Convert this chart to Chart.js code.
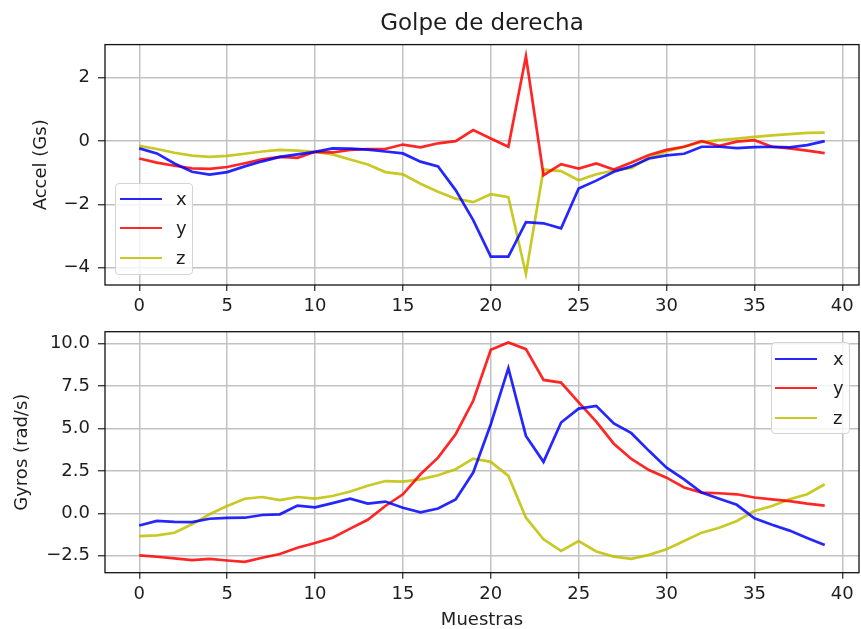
<!DOCTYPE html>
<html>
<head>
<meta charset="utf-8">
<title>Golpe de derecha</title>
<script src="https://cdn.jsdelivr.net/npm/chart.js@4.4.1/dist/chart.umd.min.js"></script>
<style>
  html, body { margin: 0; padding: 0; background: #fff; }
  #wrap { position: relative; width: 861px; height: 629px; overflow: hidden; font-family: 'DejaVu Sans', sans-serif; }
  canvas { position: absolute; left: 0; }
  #accelCanvas { top: 0; }
  #gyroCanvas { top: 312px; }
  .legend {
    position: absolute; box-sizing: border-box;
    background: rgba(255, 255, 255, 0.8);
    border: 1px solid #d4d4d4; border-radius: 4px;
  }
  .legend .row { height: 29.6px; display: flex; align-items: center; }
  .legend .swatch { width: 42px; height: 0; border-top: 2.7px solid; }
  .legend .lbl { font-size: 18px; color: #1e1e1e; line-height: 1; }
  #accelLegend { left: 115px; top: 183px; width: 78px; height: 92px; }
  #gyroLegend { left: 771px; top: 342px; width: 79px; height: 92px; }
</style>
</head>
<body>
<div id="wrap">
  <canvas id="accelCanvas" width="861" height="312"></canvas>
  <canvas id="gyroCanvas" width="861" height="317"></canvas>
  <div id="accelLegend" class="legend"></div>
  <div id="gyroLegend" class="legend"></div>
</div>
<script>
// sample index (Muestras)
const muestras = [0, 1, 2, 3, 4, 5, 6, 7, 8, 9, 10, 11, 12, 13, 14, 15, 16, 17, 18, 19,
  20, 21, 22, 23, 24, 25, 26, 27, 28, 29, 30, 31, 32, 33, 34, 35, 36, 37, 38, 39];

// accelerometer (Gs)
const accelX = [-0.23, -0.39, -0.71, -0.97, -1.06, -0.98, -0.80, -0.64, -0.50, -0.42,
  -0.34, -0.23, -0.24, -0.27, -0.33, -0.39, -0.65, -0.80, -1.55, -2.50,
  -3.65, -3.65, -2.56, -2.60, -2.76, -1.50, -1.25, -0.97, -0.80, -0.55,
  -0.45, -0.40, -0.18, -0.18, -0.22, -0.19, -0.18, -0.20, -0.13, 0.00];
const accelY = [-0.55, -0.68, -0.78, -0.86, -0.88, -0.82, -0.70, -0.58, -0.50, -0.53,
  -0.34, -0.36, -0.28, -0.25, -0.25, -0.11, -0.20, -0.07, 0.00, 0.35,
  0.08, -0.18, 2.68, -1.08, -0.73, -0.87, -0.71, -0.90, -0.68, -0.44,
  -0.28, -0.18, 0.00, -0.15, -0.02, 0.03, -0.18, -0.23, -0.30, -0.38];
const accelZ = [-0.15, -0.25, -0.37, -0.46, -0.50, -0.47, -0.40, -0.33, -0.28, -0.30,
  -0.34, -0.42, -0.58, -0.74, -0.98, -1.05, -1.35, -1.60, -1.82, -1.93,
  -1.68, -1.77, -4.20, -0.90, -0.95, -1.24, -1.05, -0.93, -0.85, -0.52,
  -0.33, -0.18, -0.03, 0.03, 0.08, 0.13, 0.18, 0.22, 0.26, 0.27];

// gyroscope (rad/s)
const gyroX = [-0.72, -0.45, -0.50, -0.52, -0.32, -0.27, -0.26, -0.10, -0.06, 0.45,
  0.35, 0.60, 0.86, 0.57, 0.69, 0.33, 0.06, 0.28, 0.81, 2.40,
  5.25, 8.55, 4.56, 3.03, 5.35, 6.17, 6.33, 5.29, 4.72, 3.68,
  2.69, 2.00, 1.22, 0.86, 0.50, -0.30, -0.68, -1.02, -1.45, -1.87];
const gyroY = [-2.48, -2.56, -2.66, -2.76, -2.68, -2.78, -2.86, -2.62, -2.40, -2.03,
  -1.75, -1.44, -0.90, -0.38, 0.43, 1.12, 2.30, 3.28, 4.66, 6.63,
  9.63, 10.06, 9.67, 7.86, 7.70, 6.53, 5.40, 4.10, 3.20, 2.55,
  2.10, 1.52, 1.22, 1.18, 1.12, 0.93, 0.82, 0.72, 0.57, 0.45];
const gyroZ = [-1.34, -1.30, -1.15, -0.65, -0.06, 0.43, 0.86, 0.96, 0.78, 0.96,
  0.86, 1.02, 1.28, 1.62, 1.90, 1.87, 2.00, 2.24, 2.60, 3.22,
  3.03, 2.20, -0.26, -1.53, -2.22, -1.64, -2.25, -2.55, -2.68, -2.45,
  -2.12, -1.63, -1.14, -0.85, -0.45, 0.14, 0.43, 0.83, 1.12, 1.71];

// tick labels
const xTicks = [0, 5, 10, 15, 20, 25, 30, 35, 40];
const accelTicks = [-4, -2, 0, 2];
const gyroTicks = [-2.5, 0, 2.5, 5, 7.5, 10];

const FONT = 'DejaVu Sans';
const TEXT = '#1e1e1e';
const GRID = '#c2c2c2';
const COLORS = {
  x: 'rgba(0, 0, 255, 0.85)',
  y: 'rgba(255, 0, 0, 0.85)',
  z: 'rgba(191, 191, 0, 0.85)',
};

const minus = (s) => String(s).replace('-', '\u2212');

// black box around the plot area (matplotlib spines)
const framePlugin = {
  id: 'frame',
  afterDatasetsDraw(chart) {
    const { ctx, chartArea: a } = chart;
    ctx.save();
    ctx.strokeStyle = '#111';
    ctx.lineWidth = 1.3;
    ctx.strokeRect(a.left, a.top, a.right - a.left, a.bottom - a.top);
    ctx.restore();
  },
};

function makeDatasets(xs, ys, zs) {
  return [
    { label: 'x', data: xs, borderColor: COLORS.x },
    { label: 'y', data: ys, borderColor: COLORS.y },
    { label: 'z', data: zs, borderColor: COLORS.z },
  ].map((d) => Object.assign(d, { borderWidth: 2.7, pointRadius: 0, tension: 0, fill: false }));
}

function xScale(height, title) {
  return {
    type: 'linear',
    min: -1.95,
    max: 40.95,
    afterBuildTicks: (s) => { s.ticks = xTicks.map((v) => ({ value: v })); },
    afterFit: (s) => { s.height = height; },
    ticks: { color: TEXT, font: { family: FONT, size: 18 }, padding: 5, maxRotation: 0, includeBounds: false },
    grid: { color: GRID, lineWidth: 1.5, tickLength: 6, tickColor: '#222', tickWidth: 1.2 },
    border: { display: false },
    title: title
      ? { display: true, text: title, color: TEXT, font: { family: FONT, size: 18, lineHeight: 1 }, padding: { top: 0, bottom: 0 } }
      : { display: false },
  };
}

function yScale(min, max, ticks, fmt, title, titlePad) {
  return {
    type: 'linear',
    min,
    max,
    afterBuildTicks: (s) => { s.ticks = ticks.map((v) => ({ value: v })); },
    afterFit: (s) => { s.width = 105; },
    ticks: { color: TEXT, font: { family: FONT, size: 18 }, padding: 8, callback: fmt },
    grid: { color: GRID, lineWidth: 1.5, tickLength: 7, tickColor: '#222', tickWidth: 1.2 },
    border: { display: false },
    title: { display: true, text: title, color: TEXT, font: { family: FONT, size: 18 }, padding: { top: titlePad, bottom: 0 } },
  };
}

// Top panel: accelerometer
const accelChart = new Chart(document.getElementById('accelCanvas'), {
  type: 'line',
  data: { labels: muestras, datasets: makeDatasets(accelX, accelY, accelZ) },
  options: {
    responsive: false,
    animation: false,
    layout: { padding: { left: 0, right: 2, top: 0, bottom: 0 } },
    plugins: {
      legend: { display: false },
      tooltip: { enabled: false },
      title: {
        display: true,
        text: 'Golpe de derecha',
        fullSize: false,
        color: TEXT,
        font: { family: FONT, size: 23, weight: 'normal' },
        padding: { top: 10, bottom: 7 },
      },
    },
    scales: {
      x: xScale(27, null),
      y: yScale(-4.55, 3.05, accelTicks, (v) => minus(v), 'Accel (Gs)', 30.5),
    },
  },
  plugins: [framePlugin],
});

// Bottom panel: gyroscope
const gyroChart = new Chart(document.getElementById('gyroCanvas'), {
  type: 'line',
  data: { labels: muestras, datasets: makeDatasets(gyroX, gyroY, gyroZ) },
  options: {
    responsive: false,
    animation: false,
    layout: { padding: { left: 0, right: 2, top: 19.7, bottom: 0 } },
    plugins: {
      legend: { display: false },
      tooltip: { enabled: false },
    },
    scales: {
      x: xScale(56.3, 'Muestras'),
      y: yScale(-3.5, 10.7, gyroTicks, (v) => minus(Number(v).toFixed(1)), 'Gyros (rad/s)', 11.5),
    },
  },
  plugins: [framePlugin],
});

// legends built from the chart datasets
function buildLegend(el, chart, swatchLeft, gap, padTop) {
  el.style.paddingTop = padTop + 'px';
  chart.data.datasets.forEach((ds) => {
    const row = document.createElement('div');
    row.className = 'row';
    const sw = document.createElement('span');
    sw.className = 'swatch';
    sw.style.borderTopColor = ds.borderColor;
    sw.style.marginLeft = swatchLeft + 'px';
    const lbl = document.createElement('span');
    lbl.className = 'lbl';
    lbl.style.marginLeft = gap + 'px';
    lbl.textContent = ds.label;
    row.appendChild(sw);
    row.appendChild(lbl);
    el.appendChild(row);
  });
}

buildLegend(document.getElementById('accelLegend'), accelChart, 4, 14, 0);
buildLegend(document.getElementById('gyroLegend'), gyroChart, 3, 16, 1);
</script>
</body>
</html>
